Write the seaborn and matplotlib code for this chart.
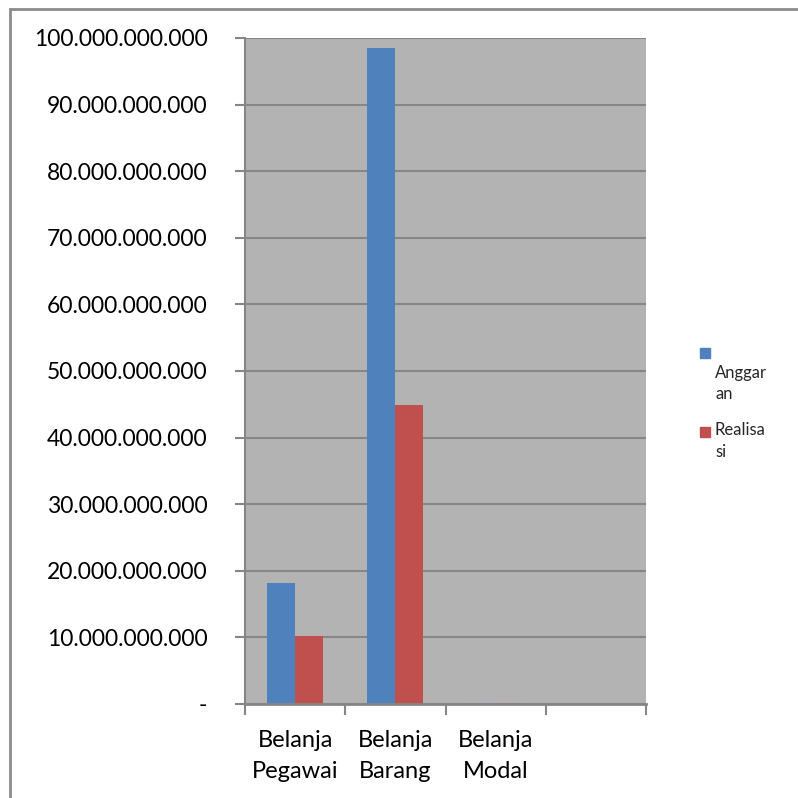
import numpy as np
import pandas as pd
import matplotlib.pyplot as plt
import matplotlib.patches as mpatches
from matplotlib.ticker import FuncFormatter, FixedLocator
import seaborn as sns

sns.set_theme(style="white")
plt.rcParams["font.family"] = ["Lato", "DejaVu Sans"]

CATEGORIES = ["Belanja\nPegawai", "Belanja\nBarang", "Belanja\nModal", " "]
ANGGARAN   = [18.2e9, 98.5e9, 0.15e9]
REALISASI  = [10.2e9, 44.9e9, 0.15e9]
SERIES     = ["Anggaran", "Realisasi"]
LEGEND_TXT = ["\nAnggar\nan", "Realisa\nsi"]
COLORS     = ["#4f81bd", "#c0504d"]

df = pd.DataFrame({
    "kategori": CATEGORIES[:3] * 2,
    "nilai": ANGGARAN + REALISASI,
    "seri": [SERIES[0]] * 3 + [SERIES[1]] * 3,
})


def fmt_id(v, pos):
    if v == 0:
        return "-"
    return f"{v:,.0f}".replace(",", ".")


fig = plt.figure(figsize=(7.98, 7.98), dpi=100)
ax = fig.add_axes([245 / 798, 0.1178, 401 / 798, 0.8346])

sns.barplot(data=df, x="kategori", y="nilai", hue="seri", order=CATEGORIES,
            palette=COLORS, width=0.56, gap=0, ax=ax, legend=False,
            saturation=1, edgecolor="none")

ax.set_facecolor("#b3b3b3")
ax.set_xlim(-0.5, 3.5)
ax.set_ylim(0, 100e9)
ax.yaxis.set_major_locator(FixedLocator(np.arange(0, 100e9 + 1, 10e9)))
ax.yaxis.set_major_formatter(FuncFormatter(fmt_id))
ax.grid(axis="y", color="#868686", linewidth=1.5)
ax.set_axisbelow(True)

for s in ["top", "right"]:
    ax.spines[s].set_visible(False)
ax.spines["left"].set_color("#868686")
ax.spines["bottom"].set_color("#868686")
ax.spines["left"].set_linewidth(1.5)
ax.spines["bottom"].set_linewidth(2)

ax.tick_params(axis="y", which="major", direction="out", length=7, width=1.5,
               color="#868686", left=True, labelsize=16.5, pad=20, labelcolor="black")
ax.set_xticks(range(4))
ax.set_xticklabels(CATEGORIES, fontsize=17, linespacing=1.55)
ax.tick_params(axis="x", which="major", length=0, pad=19, labelcolor="black")
ax.set_xticks(np.arange(-0.5, 4, 1), minor=True)
ax.tick_params(axis="x", which="minor", direction="out", length=8, width=1.5,
               color="#868686", bottom=True)
ax.set_xlabel("")
ax.set_ylabel("")

# legenda manual
for (y_sq, txt, c) in [(0.5575, LEGEND_TXT[0], COLORS[0]),
                       (0.4585, LEGEND_TXT[1], COLORS[1])]:
    fig.add_artist(mpatches.Rectangle((700 / 798, y_sq - 0.0065), 10 / 798, 10 / 798,
                                      transform=fig.transFigure, color=c))
    fig.text(715 / 798, y_sq + 0.013, txt, fontsize=12, va="top", ha="left",
             linespacing=1.45)

# bingkai luar
fig.add_artist(mpatches.Rectangle((10 / 798, -0.05), 1.1, 1 - 9 / 798 + 0.05,
                                  transform=fig.transFigure, fill=False,
                                  edgecolor="#8c8c8c", linewidth=2))

fig.savefig("out.png", dpi=100)
